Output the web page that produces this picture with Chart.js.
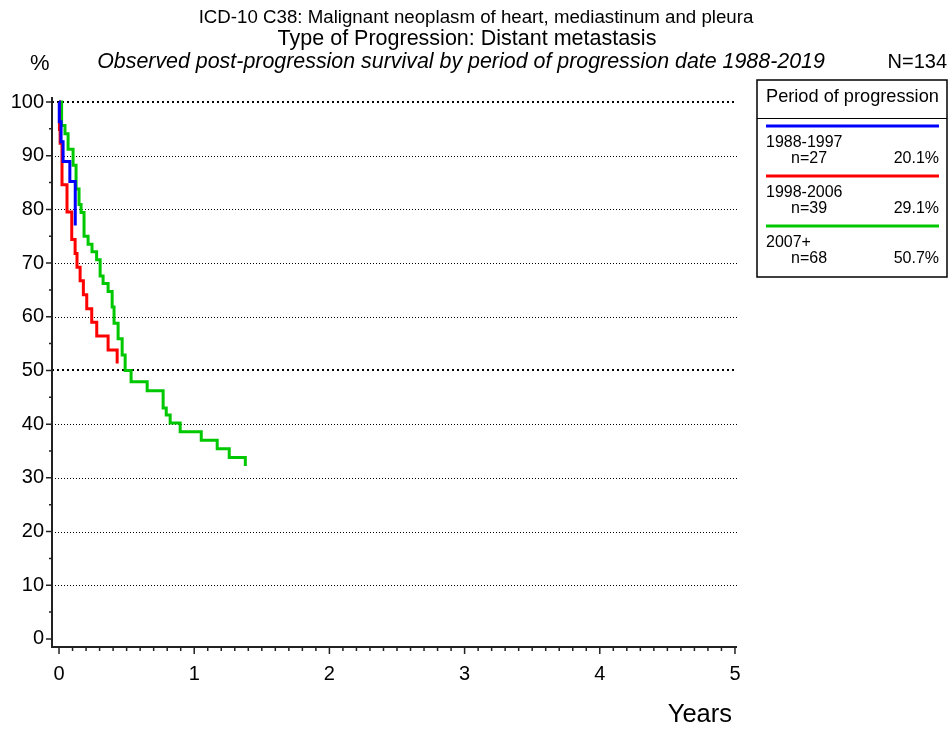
<!DOCTYPE html>
<html>
<head>
<meta charset="utf-8">
<title>Post-progression survival</title>
<script src="https://cdn.jsdelivr.net/npm/chart.js@4.4.1/dist/chart.umd.min.js"></script>
<style>
  html, body { margin: 0; padding: 0; background: #fff; }
</style>
</head>
<body>
<canvas id="surv" width="949" height="729"></canvas>
<script>
const PERIODS = ['1988-1997', '1998-2006', '2007+'];
const PATIENTS = [27, 39, 68];
const SHARES = ['20.1%', '29.1%', '50.7%'];
const COLORS = ['#0000ff', '#ff0000', '#00c800'];

const Y_TICKS = [0, 10, 20, 30, 40, 50, 60, 70, 80, 90, 100];
const X_TICKS = [0, 1, 2, 3, 4, 5];

// years after progression / observed survival (%)
const YEARS_A = [0, 0.002, 0.015, 0.03, 0.08, 0.12];
const SURV_A = [100, 96.3, 92.6, 88.9, 85.2, 77];

const YEARS_B = [0, 0.003, 0.008, 0.022, 0.059, 0.094, 0.119, 0.133, 0.156, 0.18, 0.205, 0.242, 0.279, 0.363, 0.43];
const SURV_B = [100, 94.9, 92.3, 84.6, 79.5, 74.4, 71.8, 69.2, 66.7, 64.1, 61.5, 59.0, 56.4, 53.8, 51.3];

const YEARS_C = [0, 0.019, 0.044, 0.067, 0.104, 0.126, 0.148, 0.163, 0.185, 0.215, 0.244, 0.278, 0.304, 0.326, 0.363,
  0.393, 0.407, 0.437, 0.467, 0.489, 0.533, 0.652, 0.770, 0.793, 0.822, 0.896, 1.052, 1.170, 1.259, 1.378];
const SURV_C = [100, 95.6, 94.1, 91.2, 88.2, 83.8, 80.9, 79.4, 75.0, 73.5, 72.1, 70.6, 67.6, 66.2, 64.7,
  61.8, 58.8, 55.9, 52.9, 50.0, 47.9, 46.2, 43.0, 41.7, 40.2, 38.6, 37.0, 35.4, 33.8, 32.2];

const SERIES = [[YEARS_A, SURV_A], [YEARS_B, SURV_B], [YEARS_C, SURV_C]];

const FONT = '"Liberation Sans", Arial, sans-serif';

function toPoints(xs, ys) {
  return xs.map((t, i) => ({ x: t, y: ys[i] }));
}

// dotted grid, hand-drawn axes with minor ticks, titles and the period box
const decor = {
  id: 'decor',
  beforeDatasetsDraw(chart) {
    const { ctx, chartArea: a, scales: { y } } = chart;
    ctx.save();
    ctx.strokeStyle = '#000';
    Y_TICKS.forEach(v => {
      if (v === 0) return;
      const heavy = v === 100 || v === 50;
      const py = Math.round(y.getPixelForValue(v)) + (heavy ? 0 : 0.5);
      ctx.lineWidth = heavy ? 2 : 1;
      ctx.setLineDash(heavy ? [2, 3] : [1, 2]);
      ctx.beginPath();
      ctx.moveTo(a.left, py);
      ctx.lineTo(a.right, py);
      ctx.stroke();
    });
    ctx.restore();
  },
  afterDraw(chart) {
    const { ctx, chartArea: a, scales: { x, y } } = chart;
    ctx.save();
    ctx.strokeStyle = '#222';
    ctx.lineWidth = 2;
    ctx.beginPath();
    ctx.moveTo(a.left, a.top);
    ctx.lineTo(a.left, a.bottom);
    ctx.lineTo(a.right, a.bottom);
    ctx.stroke();

    ctx.lineWidth = 1.5;
    ctx.beginPath();
    for (let v = 0; v <= 100; v += 5) {
      const py = y.getPixelForValue(v);
      ctx.moveTo(a.left, py);
      ctx.lineTo(a.left - (v % 10 === 0 ? 6 : 3), py);
    }
    for (let i = 0; i <= 50; i++) {
      const px = x.getPixelForValue(i / 10);
      ctx.moveTo(px, a.bottom);
      ctx.lineTo(px, a.bottom + (i % 10 === 0 ? 7 : 4));
    }
    ctx.stroke();

    ctx.fillStyle = '#000';
    ctx.textBaseline = 'alphabetic';
    ctx.textAlign = 'center';
    ctx.font = '18.7px ' + FONT;
    ctx.fillText('ICD-10 C38: Malignant neoplasm of heart, mediastinum and pleura', 476, 23);
    ctx.font = '21.5px ' + FONT;
    ctx.fillText('Type of Progression: Distant metastasis', 467, 45);
    ctx.font = 'italic 21.4px ' + FONT;
    ctx.fillText('Observed post-progression survival by period of progression date 1988-2019', 461, 68);
    ctx.textAlign = 'left';
    ctx.font = '22px ' + FONT;
    ctx.fillText('%', 30, 70);
    ctx.textAlign = 'right';
    ctx.font = '20px ' + FONT;
    ctx.fillText('N=134', 947, 68);
    ctx.font = '25.5px ' + FONT;
    ctx.fillText('Years', 732, 722);

    // period box
    ctx.strokeStyle = '#000';
    ctx.lineWidth = 1.5;
    ctx.strokeRect(757, 80, 190, 197);
    ctx.lineWidth = 1;
    ctx.beginPath();
    ctx.moveTo(757, 118.5);
    ctx.lineTo(947, 118.5);
    ctx.stroke();
    ctx.textAlign = 'left';
    ctx.font = '18.2px ' + FONT;
    ctx.fillText('Period of progression', 766, 102);

    PERIODS.forEach((p, i) => {
      const top = 126 + i * 50;
      ctx.strokeStyle = COLORS[i];
      ctx.lineWidth = 3;
      ctx.beginPath();
      ctx.moveTo(766, top);
      ctx.lineTo(939, top);
      ctx.stroke();
      ctx.font = '16px ' + FONT;
      ctx.textAlign = 'left';
      ctx.fillText(p, 766, top + 21);
      ctx.fillText('n=' + PATIENTS[i], 791, top + 36.5);
      ctx.textAlign = 'right';
      ctx.fillText(SHARES[i], 939, top + 36.5);
    });
    ctx.restore();
  }
};

new Chart(document.getElementById('surv'), {
  type: 'line',
  data: {
    datasets: SERIES.map(([xs, ys], i) => ({
      label: PERIODS[i],
      data: toPoints(xs, ys),
      borderColor: COLORS[i],
      borderWidth: 3,
      stepped: true,
      pointRadius: 0,
      fill: false
    }))
  },
  options: {
    responsive: false,
    animation: false,
    events: [],
    layout: { padding: { left: 0, top: 97, right: 212, bottom: 0 } },
    plugins: { legend: { display: false }, tooltip: { enabled: false } },
    scales: {
      x: {
        type: 'linear',
        min: -0.052,
        max: 5.015,
        afterFit: s => { s.height = 82; },
        afterBuildTicks: s => { s.ticks = X_TICKS.map(v => ({ value: v })); },
        grid: { display: false, drawTicks: false },
        border: { display: false },
        ticks: { padding: 15, color: '#000', font: { family: FONT, size: 20 }, maxRotation: 0, autoSkip: false }
      },
      y: {
        min: -1.5,
        max: 100.93,
        afterFit: s => { s.width = 52; },
        afterBuildTicks: s => { s.ticks = Y_TICKS.map(v => ({ value: v })); },
        grid: { display: false, drawTicks: false },
        border: { display: false },
        ticks: { padding: 8, color: '#000', font: { family: FONT, size: 20 }, autoSkip: false }
      }
    }
  },
  plugins: [decor]
});
</script>
</body>
</html>
